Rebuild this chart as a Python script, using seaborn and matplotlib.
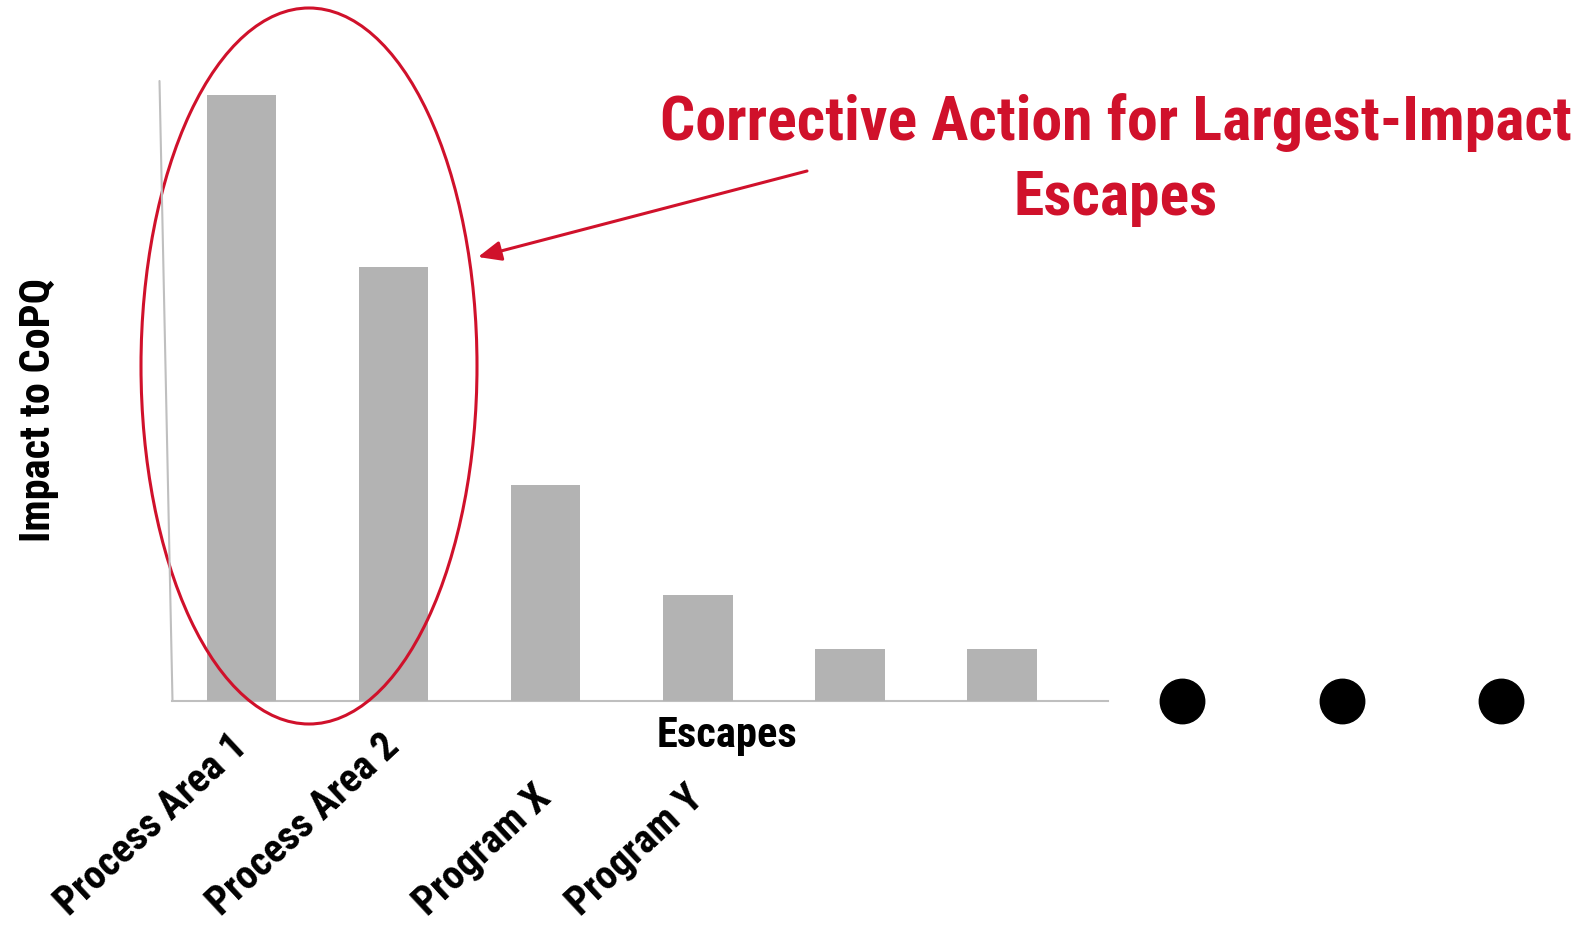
import matplotlib
matplotlib.use('Agg')
import matplotlib.pyplot as plt
from matplotlib import font_manager
from matplotlib.patches import Ellipse, FancyArrowPatch
from matplotlib.lines import Line2D
from matplotlib.transforms import ScaledTranslation
import seaborn as sns

# Data (impact relative to the largest escape)
escapes = ["Process Area 1", "Process Area 2", "Program X", "Program Y", "Escape 5", "Escape 6"]
impact = [100, 71.6, 35.6, 17.5, 8.6, 8.6]
tick_labels = ["Process Area 1", "Process Area 2", "Program X", "Program Y", "", ""]

title_lines = ["Corrective Action for Largest-Impact", "Escapes"]
x_title = "Escapes"
y_title = "Impact to CoPQ"

BAR_GREY = '#B3B3B3'
AXIS_GREY = '#BFBFBF'
RED = '#D0112B'

sns.set_style('white')


def weight_of(f):
    try:
        return int(f.weight)
    except (TypeError, ValueError):
        return 700 if 'bold' in str(f.weight) else 400


# the slide uses a narrow bold sans (Arial Narrow); take the closest one installed
bold_names = {f.name for f in font_manager.fontManager.ttflist if weight_of(f) >= 700}
FONT = 'Liberation Sans'
for cand in ['Liberation Sans Narrow', 'Arial Narrow', 'Roboto Condensed', 'Archivo Narrow',
             'PT Sans Narrow', 'IBM Plex Sans Condensed', 'Fira Sans Condensed']:
    if cand in bold_names:
        FONT = cand
        break
plt.rcParams['font.family'] = [FONT, 'DejaVu Sans']
plt.rcParams['text.color'] = 'black'

W, H = 1583, 925
fig = plt.figure(figsize=(W / 100, H / 100), dpi=100)
renderer = fig.canvas.get_renderer()


def fit_width(txt, target_px, use_height=False):
    # scale the font so the text spans the same number of pixels as in the slide
    bb = txt.get_window_extent(renderer)
    cur = bb.height if use_height else bb.width
    txt.set_fontsize(txt.get_fontsize() * target_px / cur)
    return txt.get_fontsize()


# axes placed in pixels: left 172, right 1108, baseline 701, top of tallest bar 95
ax = fig.add_axes([172 / W, (H - 701) / H, (1108 - 172) / W, 606 / H])

sns.barplot(x=escapes, y=impact, color=BAR_GREY, saturation=1, width=0.46,
            linewidth=0, ax=ax)

ax.set_ylim(0, 100)
ax.set_xlim(-0.457, 5.70)
ax.set_yticks([])
for side in ['left', 'top', 'right']:
    ax.spines[side].set_visible(False)
ax.spines['bottom'].set_color(AXIS_GREY)
ax.spines['bottom'].set_linewidth(1.5)
ax.spines['bottom'].set_zorder(0)

ax.set_ylabel(y_title, fontsize=30, fontweight='bold', color='black')
ax.yaxis.set_label_coords((39 - 172) / 936, (701 - 410) / 606)
ax.yaxis.label.set_va('center')
ylab_size = fit_width(ax.yaxis.label, 264, use_height=True)

ax.set_xlabel(x_title, fontsize=30, fontweight='bold', color='black')
ax.xaxis.set_label_coords((727 - 172) / 936, (701 - 736) / 606)
ax.xaxis.label.set_va('center')
fit_width(ax.xaxis.label, 141)

ax.set_xticks(range(len(escapes)))
ax.set_xticklabels(tick_labels, fontsize=ylab_size * 0.96, fontweight='bold')
ax.tick_params(axis='x', length=0, pad=160, labelcolor='black')
plt.setp(ax.get_xticklabels(), rotation=43, ha='right', va='bottom',
         rotation_mode='default')
# labels in the slide sit a little right of the bar centres
shift = ScaledTranslation(13 / 100, 0, fig.dpi_scale_trans)
for lab in ax.get_xticklabels():
    lab.set_transform(lab.get_transform() + shift)

# slanted value axis line as in the original slide
fig.add_artist(Line2D([159.5 / W, 172.5 / W], [1 - 81 / H, 1 - 701 / H],
                      color=AXIS_GREY, lw=1.5, transform=fig.transFigure))

# highlight ellipse and arrow
fig.add_artist(Ellipse((309 / W, 1 - 366 / H), 336 / W, 716 / H,
                       fill=False, ec=RED, lw=2.2, transform=fig.transFigure))
fig.add_artist(FancyArrowPatch((807 / W, 1 - 171 / H), (478 / W, 1 - 257 / H),
                               transform=fig.transFigure, color=RED, lw=2.2,
                               arrowstyle='-|>,head_length=0.7,head_width=0.3',
                               mutation_scale=20, shrinkA=0, shrinkB=0))

t1 = fig.text(1116 / W, 1 - 140 / H, title_lines[0], ha='center', va='baseline',
              color=RED, fontsize=46, fontweight='bold')
title_size = fit_width(t1, 912)
fig.text(1116 / W, 1 - 215 / H, title_lines[1], ha='center', va='baseline',
         color=RED, fontsize=title_size, fontweight='bold')

# "more escapes" ellipsis dots
fig.add_artist(Line2D([1182 / W, 1342 / W, 1501 / W], [1 - 701 / H] * 3,
                      ls='none', marker='o', ms=32, color='black',
                      transform=fig.transFigure))

fig.savefig('out.png', dpi=100)
